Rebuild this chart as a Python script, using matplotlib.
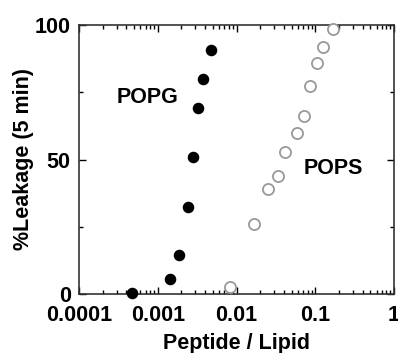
import matplotlib
matplotlib.use("Agg")
import matplotlib.pyplot as plt
from matplotlib.ticker import LogLocator, NullFormatter, FixedLocator

plt.rcParams["font.family"] = ["Liberation Sans", "DejaVu Sans"]
plt.rcParams["font.weight"] = "bold"

# POPG (filled) and POPS (open) leakage vs peptide/lipid ratio
popg_ratio = [0.00047, 0.00143, 0.00188, 0.0024, 0.00283, 0.00327, 0.00378, 0.0047]
popg_leak = [0.5, 5.6, 14.5, 32.5, 50.8, 69.0, 79.8, 90.7]

pops_ratio = [0.0083, 0.0167, 0.0249, 0.0334, 0.0413, 0.0592, 0.0719, 0.0857, 0.104, 0.1265, 0.166]
pops_leak = [2.5, 25.9, 39.0, 43.9, 52.7, 60.0, 66.2, 77.3, 86.0, 91.9, 98.5]

x_ticks = [0.0001, 0.001, 0.01, 0.1, 1]
x_labels = ["0.0001", "0.001", "0.01", "0.1", "1"]
y_ticks = [0, 50, 100]

fs = 15.5

fig = plt.figure(figsize=(3.98, 3.53), dpi=100)
ax = fig.add_axes([79 / 398, 1 - 294 / 353, 315 / 398, 269 / 353])

ax.plot(popg_ratio, popg_leak, "o", color="black", markersize=7.3, clip_on=False, zorder=3)
ax.plot(pops_ratio, pops_leak, "o", markerfacecolor="white", markeredgecolor="#999999",
        markeredgewidth=1.3, markersize=8, clip_on=False, zorder=3)

ax.set_xscale("log")
ax.set_xlim(0.0001, 1)
ax.set_ylim(0, 100)
ax.set_xticks(x_ticks)
ax.set_xticklabels(x_labels)
ax.xaxis.set_minor_locator(LogLocator(base=10, subs=range(2, 10)))
ax.xaxis.set_minor_formatter(NullFormatter())
ax.set_yticks(y_ticks)
ax.yaxis.set_minor_locator(FixedLocator([25, 75]))

ax.tick_params(which="both", direction="in", top=True, right=True, labelsize=fs, width=1)
ax.tick_params(which="major", length=5)
ax.tick_params(which="minor", length=3)
ax.tick_params(axis="x", pad=8)
ax.tick_params(axis="y", pad=6)
for s in ax.spines.values():
    s.set_linewidth(1.2)
    s.set_color("#333333")

ax.set_xlabel("Peptide / Lipid", fontsize=fs, fontweight="bold", labelpad=5)
ax.set_ylabel("%Leakage (5 min)", fontsize=fs, fontweight="bold", labelpad=0.5)

ax.text(0.00075, 72.9, "POPG", fontsize=fs, fontweight="bold", ha="center", va="center")
ax.text(0.171, 46.8, "POPS", fontsize=fs, fontweight="bold", ha="center", va="center")

fig.savefig("out.png", dpi=100)
